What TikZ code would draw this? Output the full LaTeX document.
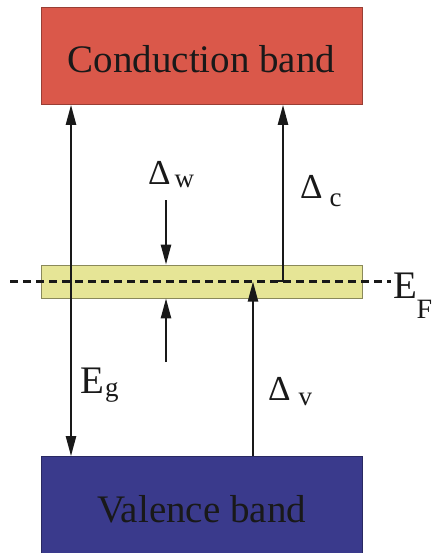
\documentclass[tikz,border=0pt]{standalone}
\usepackage{fontspec}
\setmainfont{Liberation Serif}
\usetikzlibrary{arrows.meta, positioning, calc}
\definecolor{condcolor}{RGB}{218, 88, 74}
\definecolor{fermicolor}{RGB}{230, 229, 150}
\definecolor{valcolor}{RGB}{58, 58, 140}
\definecolor{linecolor}{RGB}{25, 25, 25}
\newcommand{\lowsub}[2]{\raisebox{#1}{\fontsize{27}{27}\selectfont #2}}
\tikzstyle{band} = [rectangle, minimum width=321pt, minimum height=97pt, text height=34pt, text depth=0pt, inner sep=0pt, font=\fontsize{39}{44}\selectfont, text=linecolor, line width=0.6pt]
\tikzstyle{fermiband} = [rectangle, minimum width=321pt, minimum height=33pt, inner sep=0pt, fill=fermicolor, draw=fermicolor!60!black, line width=0.6pt]
\tikzstyle{fermiline} = [line width=3pt, dash pattern=on 8pt off 5pt, color=linecolor]
\tikzstyle{arrow} = [line width=2.3pt, -{Triangle[length=20pt, width=10pt]}, color=linecolor]
\tikzstyle{twoway} = [line width=2.3pt, {Triangle[length=20pt, width=10pt]}-{Triangle[length=20pt, width=10pt]}, color=linecolor]
\tikzstyle{gaplabel} = [anchor=base west, inner sep=0pt, font=\fontsize{35}{40}\selectfont, text=linecolor]

\begin{document}
\begin{tikzpicture}[x=1pt, y=-1pt]
\useasboundingbox (0,0) rectangle (433,553);

% Nodes
\node (cb) [band, fill=condcolor, draw=condcolor!70!black] at (201.5,56) {Conduction band};
\node (fl) [fermiband] at (201.5,281.5) {};
\node (vb) [band, fill=valcolor, draw=valcolor!70!black] at (201.5,505) {Valence band};

\coordinate (eg) at (71,0);
\coordinate (dc) at (283,0);
\coordinate (dv) at (253,0);
\coordinate (wtop) at (166,200);
\coordinate (wbot) at (166,362);
\coordinate (dcs) at (270,281);
\coordinate (dl) at (10,281);

\node (ef) [gaplabel, font=\fontsize{39}{44}\selectfont] at (393,298) {E\kern-0.5pt\raisebox{-20pt}{\fontsize{28}{28}\selectfont F}};
\node (lw) [gaplabel] at (148,185) {Δ\kern4pt\lowsub{-3pt}{w}};
\node (lc) [gaplabel] at (300,199) {Δ\kern7pt\lowsub{-8pt}{c}};
\node (lg) [gaplabel, font=\fontsize{39}{44}\selectfont] at (80,393) {E\kern1pt\lowsub{-3pt}{g}};
\node (lv) [gaplabel] at (268,400) {Δ\kern8pt\lowsub{-5pt}{v}};

% Fermi level
\draw [fermiline, shorten >=2pt] (dl) -- (dl -| ef.west);

% Arrows
\draw [twoway] (cb.south -| eg) -- (vb.north -| eg);
\draw [arrow] (wtop) -- (fl.north -| wtop);
\draw [arrow] (wbot) -- (fl.south -| wbot);
\draw [arrow] (dcs) -| (cb.south -| dc);
\draw [arrow] (vb.north -| dv) -- (dv |- fl.center);

\end{tikzpicture}
\end{document}
